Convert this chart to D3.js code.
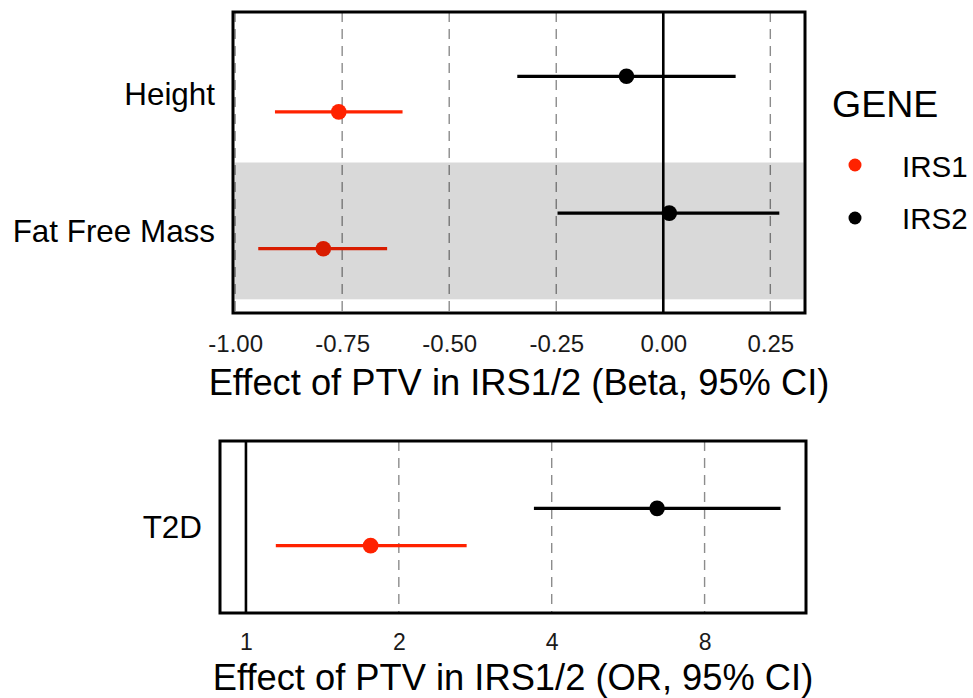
<!DOCTYPE html>
<html><head><meta charset="utf-8">
<script src="https://cdn.jsdelivr.net/npm/d3@7"></script>
<style>
body{margin:0;background:#fff;}
svg{display:block;font-family:"Liberation Sans",Arial,sans-serif;}
</style></head>
<body><svg id="chart" width="973" height="698"></svg>
<script>
// ---- data ----
const genes = ["IRS1", "IRS2"];
const geneColors = ["#ff2200", "#000000"];
const traits = ["Height", "Fat Free Mass"];
// beta, lower CI, upper CI per trait (order of traits)
const irs1Beta = [-0.758, -0.794];
const irs1Lo   = [-0.907, -0.946];
const irs1Hi   = [-0.609, -0.645];
const irs2Beta = [-0.086, 0.014];
const irs2Lo   = [-0.341, -0.247];
const irs2Hi   = [0.169, 0.271];
const betaTicks = [-1.00, -0.75, -0.50, -0.25, 0.00, 0.25];
const betaTickLabels = ["-1.00", "-0.75", "-0.50", "-0.25", "0.00", "0.25"];
// T2D odds ratios
const orTrait = ["T2D"];
const irs1OR = [1.76], irs1ORLo = [1.145], irs1ORHi = [2.72];
const irs2OR = [6.45], irs2ORLo = [3.69], irs2ORHi = [11.29];
const orTicks = [1, 2, 4, 8];
const orTickLabels = ["1", "2", "4", "8"];

const svg = d3.select("#chart");
const color = d3.scaleOrdinal().domain(genes).range(geneColors);

function rows(gene, est, lo, hi, cats) {
  return cats.map((c, i) => ({gene, trait: c, est: est[i], lo: lo[i], hi: hi[i]}));
}
const topData = rows("IRS1", irs1Beta, irs1Lo, irs1Hi, traits).concat(rows("IRS2", irs2Beta, irs2Lo, irs2Hi, traits));
const botData = rows("IRS1", irs1OR, irs1ORLo, irs1ORHi, orTrait).concat(rows("IRS2", irs2OR, irs2ORLo, irs2ORHi, orTrait));

const dodge = {IRS1: 0.13, IRS2: -0.13};

function panel(opt) {
  const g = svg.append("g");
  const x = opt.x;
  const y = d3.scaleLinear().domain([0.4, opt.cats.length + 0.6]).range([opt.y0, opt.y1]);
  const catPos = c => opt.cats.indexOf(c) + 1;
  // grid dashed
  g.selectAll(".grid").data(opt.ticks.filter(t => t !== opt.ref)).join("line")
    .attr("x1", d => x(d)).attr("x2", d => x(d))
    .attr("y1", opt.y0).attr("y2", opt.y1)
    .attr("stroke", "#8c8c8c").attr("stroke-width", 1.4).attr("stroke-dasharray", "10,7");
  // ref line
  g.append("line").attr("x1", x(opt.ref)).attr("x2", x(opt.ref))
    .attr("y1", opt.y0).attr("y2", opt.y1).attr("stroke", "#000").attr("stroke-width", 2.6);
  // CIs
  g.selectAll(".ci").data(opt.data).join("line")
    .attr("x1", d => x(d.lo)).attr("x2", d => x(d.hi))
    .attr("y1", d => y(catPos(d.trait) + dodge[d.gene]))
    .attr("y2", d => y(catPos(d.trait) + dodge[d.gene]))
    .attr("stroke", d => color(d.gene)).attr("stroke-width", 3.3);
  g.selectAll(".pt").data(opt.data).join("circle")
    .attr("cx", d => x(d.est)).attr("cy", d => y(catPos(d.trait) + dodge[d.gene]))
    .attr("r", 7.8).attr("fill", d => color(d.gene));
  // shaded band overlay (alternate rows)
  if (opt.band) {
    opt.band.forEach(c => {
      const p = catPos(c);
      g.append("rect").attr("x", opt.x0 + 1.5).attr("width", opt.x1 - opt.x0 - 3)
        .attr("y", y(p - 0.5)).attr("height", y(p + 0.5) - y(p - 0.5))
        .attr("fill", "#000").attr("fill-opacity", 0.15);
    });
  }
  // border
  g.append("rect").attr("x", opt.x0).attr("y", opt.y0)
    .attr("width", opt.x1 - opt.x0).attr("height", opt.y1 - opt.y0)
    .attr("fill", "none").attr("stroke", "#000").attr("stroke-width", 3);
  // x axis
  const ax = d3.axisBottom(x).tickValues(opt.ticks)
    .tickFormat((d, i) => opt.tickLabels[i]).tickSize(0).tickPadding(0);
  const axg = g.append("g").attr("transform", `translate(0,${opt.y1})`).call(ax);
  axg.select(".domain").remove();
  axg.selectAll("text").attr("font-size", opt.tickSize).attr("fill", "#1a1a1a")
    .attr("dy", null).attr("y", opt.tickY - opt.y1).attr("font-family", "Liberation Sans, Arial, sans-serif");
  // y labels
  g.selectAll(".yl").data(opt.cats).join("text")
    .attr("x", opt.x0 - 18).attr("y", d => y(catPos(d)) + 11)
    .attr("text-anchor", "end").attr("font-size", 31.4).attr("fill", "#000").text(d => d);
  // title
  g.append("text").attr("x", opt.titleX).attr("y", opt.titleY)
    .attr("text-anchor", "middle").attr("font-size", 36.3).attr("fill", "#000").text(opt.title);
}

const xTop = d3.scaleLinear().domain([-1.005, 0.331]).range([233, 805]);
panel({x: xTop, x0: 233, x1: 805, y0: 12, y1: 313, cats: traits, data: topData,
  ticks: betaTicks, tickLabels: betaTickLabels, ref: 0, band: ["Fat Free Mass"],
  tickSize: 24, tickY: 352, title: "Effect of PTV in IRS1/2 (Beta, 95% CI)", titleX: 519, titleY: 395});

const xBot = d3.scaleLog().base(2).domain([0.889, 12.67]).range([220, 806]);
panel({x: xBot, x0: 220, x1: 806, y0: 441, y1: 613, cats: orTrait, data: botData,
  ticks: orTicks, tickLabels: orTickLabels, ref: 1, band: null,
  tickSize: 23, tickY: 650, title: "Effect of PTV in IRS1/2 (OR, 95% CI)", titleX: 513, titleY: 690});

// legend
const leg = svg.append("g");
leg.append("text").attr("x", 832).attr("y", 117).attr("font-size", 37.5).attr("fill", "#000").text("GENE");
leg.selectAll(".ld").data(genes).join("circle")
  .attr("cx", 855).attr("cy", (d, i) => 165 + i * 53).attr("r", 6.5).attr("fill", d => color(d));
leg.selectAll(".lt").data(genes).join("text")
  .attr("x", 902).attr("y", (d, i) => 177 + i * 52).attr("font-size", 29.5).attr("fill", "#000").text(d => d);
</script></body></html>
